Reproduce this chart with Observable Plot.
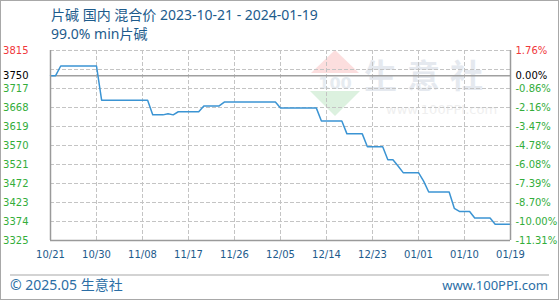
<!DOCTYPE html>
<html><head><meta charset="utf-8">
<script src="https://cdn.jsdelivr.net/npm/d3@7"></script>
<script src="https://cdn.jsdelivr.net/npm/@observablehq/plot@0.6"></script>
<style>
body{margin:0;background:#fff;}
#wrap{position:relative;width:560px;height:300px;overflow:hidden;background:#fff;}
#wrap svg{position:absolute;left:0;top:0;}
</style></head><body>
<div id="wrap"></div>
<script>
// ---- data ----
const startDate = "2023-10-21";
const endDate = "2024-01-19";
// daily price (yuan/ton), one value per day from 2023-10-21 to 2024-01-19
const prices = [
  3750, 3750, 3775, 3775, 3775, 3775, 3775, 3775, 3775, 3775,
  3687, 3687, 3687, 3687, 3687, 3687, 3687, 3687, 3687, 3687,
  3649, 3649, 3649, 3652, 3649, 3657, 3657, 3657, 3657, 3657,
  3672, 3672, 3672, 3672, 3682, 3682, 3682, 3682, 3682, 3682,
  3682, 3682, 3682, 3682, 3682, 3667, 3667, 3667, 3667, 3667,
  3667, 3667, 3667, 3633, 3633, 3633, 3633, 3633, 3600, 3600,
  3600, 3600, 3567, 3567, 3567, 3567, 3533, 3533, 3517, 3500,
  3500, 3500, 3500, 3478, 3450, 3450, 3450, 3450, 3450, 3408,
  3400, 3400, 3400, 3383, 3383, 3383, 3383, 3367, 3367, 3367,
  3367
];
const xTickDates = ["2023-10-21","2023-10-30","2023-11-08","2023-11-17","2023-11-26","2023-12-05","2023-12-14","2023-12-23","2024-01-01","2024-01-10","2024-01-19"];
const yTickValues = [3325, 3374, 3423, 3472, 3521, 3570, 3619, 3668, 3717, 3750, 3815];
const pctLabels = ["-11.31%","-10.00%","-8.70%","-7.39%","-6.08%","-4.78%","-3.47%","-2.16%","-0.86%","0.00%","1.76%"];
const gridValues = [3374, 3423, 3472, 3521, 3570, 3619, 3668, 3717, 3766, 3815];
const baseValue = 3750;
const yDomain = [3325, 3815];
const titleText = "片碱 国内 混合价 2023-10-21 - 2024-01-19";
const subtitleText = "99.0% min片碱";
const footerLeft = "© 2025.05 生意社";
const footerRight = "www.100PPI.com";

// ---- build ----
const start = new Date(startDate + "T00:00:00Z");
const end = new Date(endDate + "T00:00:00Z");
const data = prices.map((v, i) => ({date: d3.utcDay.offset(start, i), price: v}));
const xDates = xTickDates.map(s => new Date(s + "T00:00:00Z"));
const RED = "#f0383c", GREEN = "#33ad3a", BLUE = "#1d5b8c";
const tickColor = d => d === yDomain[1] ? RED : d === baseValue ? "#000" : GREEN;

const chart = Plot.plot({
  width: 560, height: 300,
  marginLeft: 50, marginRight: 50, marginTop: 50, marginBottom: 60,
  x: {type: "utc", domain: [start, end], axis: null},
  y: {domain: yDomain, axis: null},
  color: {type: "identity"},
  style: {fontFamily: "DejaVu Sans", fontSize: "10px", background: "transparent", overflow: "visible"},
  marks: [
    Plot.ruleY(gridValues, {stroke: "#c4c4c4", strokeDasharray: "4,2"}),
    Plot.ruleX(xDates.slice(1, -1), {stroke: "#c4c4c4", strokeDasharray: "4,2"}),
    Plot.ruleY([baseValue], {stroke: "#a0a0a0", strokeWidth: 1.6}),
    Plot.line(data, {x: "date", y: "price", stroke: "#3b94d3", strokeWidth: 1.5}),
    Plot.ruleX([start, end], {stroke: "#9a9a9a", strokeWidth: 1.5}),
    Plot.ruleY([yDomain[0]], {stroke: "#9a9a9a", strokeWidth: 1.5}),
    Plot.text(yTickValues, {y: d => d, frameAnchor: "left", dx: -22, textAnchor: "end", text: d => String(d), fill: tickColor}),
    Plot.text(yTickValues, {y: d => d, frameAnchor: "right", dx: 5, textAnchor: "start", text: (d, i) => pctLabels[i], fill: tickColor}),
    Plot.text(xDates, {x: d => d, frameAnchor: "bottom", dy: 17, text: d => d3.utcFormat("%m/%d")(d), fill: BLUE})
  ]
});

// ---- decorations (watermark, titles, footer, border) ----
const ns = "http://www.w3.org/2000/svg";
function deco(width, height) {
  return d3.create("svg").attr("xmlns", ns).attr("width", width).attr("height", height)
    .style("position", "absolute").style("left", 0).style("top", 0);
}
const back = deco(560, 300);
// watermark logo
back.append("path").attr("d", "M335,50 L359,73 L311,73 Z").attr("fill", "#fcdede");
back.append("text").attr("x", 335).attr("y", 89).attr("text-anchor", "middle")
  .attr("font-family", "DejaVu Sans").attr("font-weight", "bold").attr("font-size", 16).attr("fill", "#e6ebf0").text("100");
back.append("path").attr("d", "M310,91 L360,91 L335,116 Z").attr("fill", "#dcf1df");
back.append("text").attr("x", 364).attr("y", 88)
  .attr("font-family", "Noto Sans CJK SC").attr("font-weight", "bold").attr("font-size", 33).attr("letter-spacing", 10)
  .attr("fill", "#e5e9ef").text("生意社");
back.append("text").attr("x", 386).attr("y", 114)
  .attr("font-family", "DejaVu Sans").attr("font-size", 13).attr("fill", "#efefef").text("www.100PPI.com");

const front = deco(560, 300);
front.append("rect").attr("x", 0.5).attr("y", 0.5).attr("width", 558).attr("height", 299)
  .attr("fill", "none").attr("stroke", "#a8a8a8");
front.append("line").attr("x1", 10).attr("x2", 549).attr("y1", 275).attr("y2", 275)
  .attr("stroke", "#a8a8a8").attr("stroke-width", 1.2);
const tfont = "'Noto Sans','Noto Sans CJK SC',sans-serif";
front.append("text").attr("x", 51).attr("y", 19.5).attr("font-family", tfont).attr("font-size", 14)
  .attr("fill", BLUE).text(titleText);
front.append("text").attr("x", 51).attr("y", 39.3).attr("font-family", tfont).attr("font-size", 14)
  .attr("fill", BLUE).text(subtitleText);
front.append("text").attr("x", 10).attr("y", 290).attr("font-family", tfont).attr("font-size", 14)
  .attr("fill", "#2b6ea5").text(footerLeft);
front.append("text").attr("x", 548).attr("y", 290).attr("text-anchor", "end").attr("font-family", tfont).attr("font-size", 13)
  .attr("fill", "#2b6ea5").text(footerRight);

const wrap = document.getElementById("wrap");
wrap.appendChild(back.node());
wrap.appendChild(chart);
wrap.appendChild(front.node());
</script>
</body></html>
